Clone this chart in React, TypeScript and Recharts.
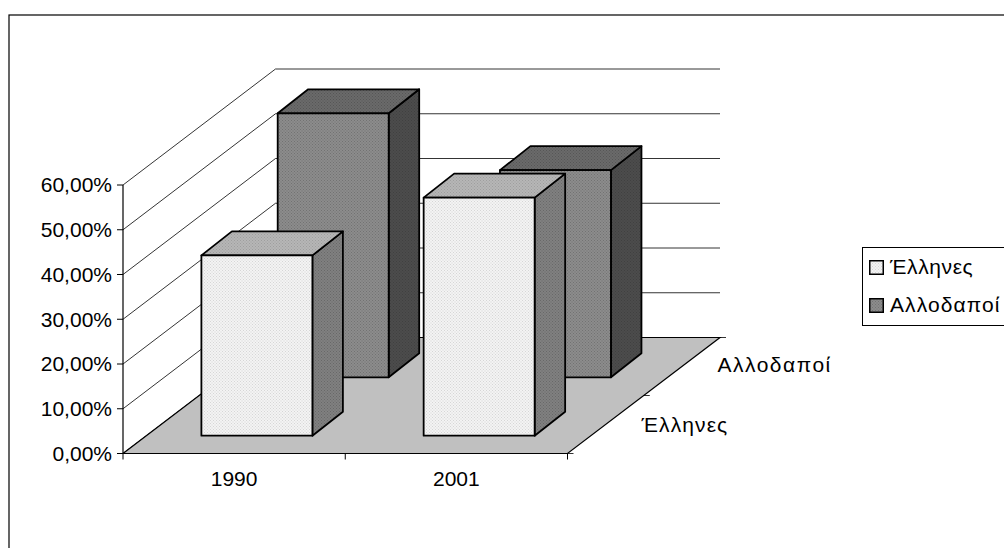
import React from 'react';
import { BarChart, Bar, XAxis, YAxis, Legend, usePlotArea } from 'recharts';

const categories = ['1990', '2001'];
const greeks = [0.403, 0.532];
const foreigners = [0.59, 0.463];
const seriesNames = ['Έλληνες', 'Αλλοδαποί'];
const yTicks = [0, 0.1, 0.2, 0.3, 0.4, 0.5, 0.6];

const chartData = categories.map((year, i) => ({
  year,
  greeks: greeks[i],
  foreigners: foreigners[i],
}));

const FONT = '"Liberation Sans", Arial, sans-serif';
const FONT_SIZE = 21;
const BAR_WIDTH = 111;

// oblique offset of the back wall relative to the front of the floor
const DEPTH_X = 152.5;
const DEPTH_Y = 116;

const formatPercent = (v: number) => (v * 100).toFixed(2).replace('.', ',') + '%';

const Dither = ({ id, base, dot }: { id: string; base: string; dot: string }) => (
  <pattern id={id} width={3} height={3} patternUnits="userSpaceOnUse">
    <rect width={3} height={3} fill={base} />
    <rect x={0} y={0} width={1} height={1} fill={dot} />
    <rect x={1.5} y={1.5} width={1} height={1} fill={dot} />
  </pattern>
);

// walls, floor, frame and the depth axis, which the library has no 3D version of
const Backdrop = () => {
  const plot = usePlotArea();
  if (!plot) return null;
  const { x: left, y: top, width, height } = plot;
  const right = left + width;
  const bottom = top + height;
  const yOf = (t: number) => bottom - (t / 0.6) * height;

  return (
    <g>
      <defs>
        <Dither id="front-face" base="#f3f3f3" dot="#d6d6d6" />
        <Dither id="front-side" base="#808080" dot="#686868" />
        <Dither id="front-top" base="#b6b6b6" dot="#9e9e9e" />
        <Dither id="back-face" base="#8c8c8c" dot="#727272" />
        <Dither id="back-side" base="#4c4c4c" dot="#404040" />
        <Dither id="back-top" base="#6a6a6a" dot="#565656" />
      </defs>
      <rect x={9} y={15} width={1100} height={700} fill="#fff" stroke="#000" strokeWidth={1.2} />
      {yTicks.map((t) => (
        <polyline
          key={t}
          points={`${left},${yOf(t)} ${left + DEPTH_X},${yOf(t) - DEPTH_Y} ${right + DEPTH_X},${yOf(t) - DEPTH_Y}`}
          fill="none"
          stroke="#000"
          strokeWidth={0.8}
        />
      ))}
      <polygon
        points={`${left},${bottom} ${right},${bottom} ${right + DEPTH_X},${bottom - DEPTH_Y} ${left + DEPTH_X},${bottom - DEPTH_Y}`}
        fill="#c0c0c0"
        stroke="#000"
        strokeWidth={1.2}
      />
      {[0, 0.5, 1].map((f) => (
        <line
          key={`x${f}`}
          x1={left + width * f}
          x2={left + width * f}
          y1={bottom}
          y2={bottom + 6}
          stroke="#000"
        />
      ))}
      {[0, 0.5, 1].map((f) => (
        <line
          key={`z${f}`}
          x1={right + DEPTH_X * f}
          x2={right + DEPTH_X * f + 6}
          y1={bottom - DEPTH_Y * f}
          y2={bottom - DEPTH_Y * f}
          stroke="#000"
          strokeWidth={0.8}
        />
      ))}
      <text x={right + 74} y={bottom - 22} fontFamily={FONT} fontSize={FONT_SIZE} letterSpacing={1.1} fill="#000">
        {seriesNames[0]}
      </text>
      <text x={right + 150} y={bottom - 82} fontFamily={FONT} fontSize={FONT_SIZE} letterSpacing={1.5} fill="#000">
        {seriesNames[1]}
      </text>
    </g>
  );
};

const Box3D = (props: any) => {
  const { x, y, width, height, shiftX, shiftY, prefix } = props;
  const l = x + shiftX;
  const t = y - shiftY;
  const r = l + width;
  const b = t + height;
  const dx = 30.5;
  const dy = 24;
  return (
    <g stroke="#000" strokeWidth={1.8} strokeLinejoin="round">
      <polygon
        points={`${r},${t} ${r + dx},${t - dy} ${r + dx},${b - dy} ${r},${b}`}
        fill={`url(#${prefix}-side)`}
      />
      <polygon
        points={`${l},${t} ${l + dx},${t - dy} ${r + dx},${t - dy} ${r},${t}`}
        fill={`url(#${prefix}-top)`}
      />
      <rect x={l} y={t} width={width} height={height} fill={`url(#${prefix}-face)`} />
    </g>
  );
};

const LegendBox = () => (
  <div
    style={{
      width: 142,
      height: 77,
      border: '1px solid #000',
      borderRight: 'none',
      background: '#fff',
      fontFamily: FONT,
      fontSize: FONT_SIZE,
      color: '#000',
      boxSizing: 'content-box',
    }}
  >
    {seriesNames.map((name, i) => (
      <div
        key={name}
        style={{
          height: 38,
          display: 'flex',
          alignItems: 'center',
          paddingLeft: 6,
          lineHeight: '38px',
          letterSpacing: i === 0 ? 0.6 : 1.1,
        }}
      >
        <svg width={15} height={15} style={{ marginRight: 6, flex: 'none' }}>
          <rect
            x={0.75}
            y={0.75}
            width={13.5}
            height={13.5}
            fill={i === 0 ? 'url(#front-face)' : 'url(#back-face)'}
            stroke="#000"
            strokeWidth={1.5}
          />
        </svg>
        {name}
      </div>
    ))}
  </div>
);

const App: React.FC = () => {
  const tickStyle = { fontFamily: FONT, fontSize: FONT_SIZE, fill: '#000' };
  return (
    <div style={{ position: 'absolute', left: 0, top: 0, width: 1004, height: 548, overflow: 'hidden' }}>
      <BarChart
        width={1004}
        height={548}
        data={chartData}
        margin={{ top: 185, right: 436.5, bottom: 64.5, left: 63 }}
        barSize={BAR_WIDTH}
        barGap={-BAR_WIDTH}
      >
        <Backdrop />
        <XAxis
          dataKey="year"
          tick={tickStyle}
          tickLine={false}
          tickMargin={12}
          axisLine={{ stroke: '#000', strokeWidth: 1.2 }}
        />
        <YAxis
          width={60}
          domain={[0, 0.6]}
          ticks={yTicks}
          interval={0}
          tickFormatter={formatPercent}
          tick={tickStyle}
          tickSize={6}
          tickMargin={5}
          tickLine={{ stroke: '#000' }}
          axisLine={{ stroke: '#000', strokeWidth: 1.2 }}
        />
        <Bar
          dataKey="foreigners"
          name={seriesNames[1]}
          isAnimationActive={false}
          shape={(p: any) => <Box3D {...p} shiftX={98.7} shiftY={76.2} prefix="back" />}
        />
        <Bar
          dataKey="greeks"
          name={seriesNames[0]}
          isAnimationActive={false}
          shape={(p: any) => <Box3D {...p} shiftX={22.4} shiftY={17.8} prefix="front" />}
        />
        <Legend
          layout="vertical"
          align="center"
          verticalAlign="middle"
          content={<LegendBox />}
          wrapperStyle={{ position: 'absolute', left: 862, top: 247, width: 142, height: 79, bottom: 'auto', right: 'auto' }}
        />
      </BarChart>
    </div>
  );
};

export default App;
